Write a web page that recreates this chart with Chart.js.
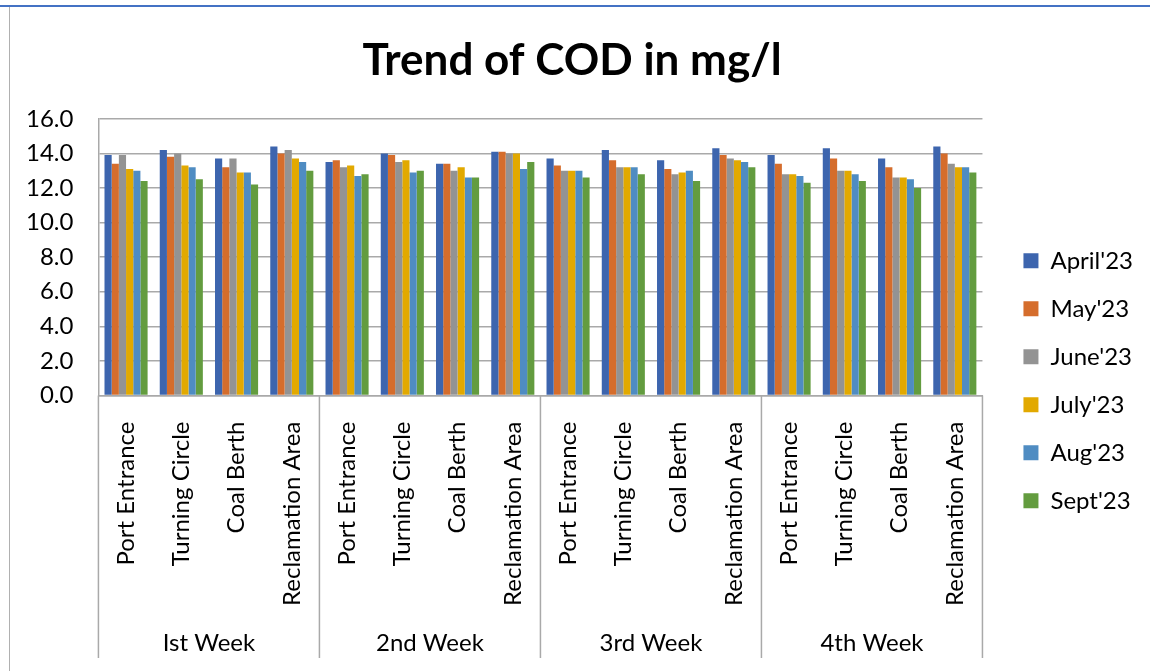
<!DOCTYPE html>
<html>
<head>
<meta charset="utf-8">
<script src="https://cdn.jsdelivr.net/npm/chart.js@4"></script>
<style>
  body { margin: 0; background: #fff; }
  #wrap { position: relative; width: 1150px; height: 671px; }
  #topline { position: absolute; left: 0; top: 5px; width: 1150px; height: 2px; background: #4472c4; }
  #leftline { position: absolute; left: 9px; top: 7px; width: 1px; height: 664px; background: #b0b0b0; }
</style>
</head>
<body>
<div id="wrap">
  <canvas id="myChart" width="1150" height="671"></canvas>
  <div id="topline"></div>
  <div id="leftline"></div>
</div>
<script>
const sites = ['Port Entrance', 'Turning Circle', 'Coal Berth', 'Reclamation Area'];
const weeks = ['Ist Week', '2nd Week', '3rd Week', '4th Week'];
const months = ["April'23", "May'23", "June'23", "July'23", "Aug'23", "Sept'23"];
const yTicks = [0, 2, 4, 6, 8, 10, 12, 14, 16];

// COD values, week by week (PE, TC, CB, RA)
const april = [13.9, 14.2, 13.7, 14.4, 13.5, 14.0, 13.4, 14.1, 13.7, 14.2, 13.6, 14.3, 13.9, 14.3, 13.7, 14.4];
const may   = [13.4, 13.8, 13.2, 14.0, 13.6, 13.9, 13.4, 14.1, 13.3, 13.6, 13.1, 13.9, 13.4, 13.7, 13.2, 14.0];
const june  = [13.9, 14.0, 13.7, 14.2, 13.2, 13.5, 13.0, 14.0, 13.0, 13.2, 12.8, 13.7, 12.8, 13.0, 12.6, 13.4];
const july  = [13.1, 13.3, 12.9, 13.7, 13.3, 13.6, 13.2, 14.0, 13.0, 13.2, 12.9, 13.6, 12.8, 13.0, 12.6, 13.2];
const aug   = [13.0, 13.2, 12.9, 13.5, 12.7, 12.9, 12.6, 13.1, 13.0, 13.2, 13.0, 13.5, 12.7, 12.8, 12.5, 13.2];
const sept  = [12.4, 12.5, 12.2, 13.0, 12.8, 13.0, 12.6, 13.5, 12.6, 12.8, 12.4, 13.2, 12.3, 12.4, 12.0, 12.9];

const series = [april, may, june, july, aug, sept];
const colors = ['#3d65ae', '#d56d2c', '#939393', '#e2a900', '#4f8cc2', '#639c3f'];
const labels = weeks.flatMap(() => sites);

const FONT = 'Lato, "Open Sans", sans-serif';

// draws the week dividers and the week names under the site labels
const weekGroups = {
  id: 'weekGroups',
  afterDraw(chart) {
    const x = chart.scales.x;
    const ctx = chart.ctx;
    const top = chart.chartArea.bottom;
    const bottom = 658;
    const n = sites.length;
    let edges = [];
    for (let g = 0; g <= weeks.length; g++) {
      if (g === 0) edges.push(x.left);
      else if (g === weeks.length) edges.push(x.right);
      else edges.push((x.getPixelForValue(g * n - 1) + x.getPixelForValue(g * n)) / 2);
    }
    ctx.save();
    ctx.strokeStyle = '#a9a9a9';
    ctx.lineWidth = 1.5;
    edges.forEach(e => {
      ctx.beginPath();
      ctx.moveTo(e, top);
      ctx.lineTo(e, bottom);
      ctx.stroke();
    });
    ctx.fillStyle = '#000';
    ctx.font = '24px ' + FONT;
    ctx.textAlign = 'center';
    ctx.textBaseline = 'middle';
    weeks.forEach((w, i) => ctx.fillText(w, (edges[i] + edges[i + 1]) / 2, 643));
    ctx.restore();
  }
};

new Chart(document.getElementById('myChart').getContext('2d'), {
  type: 'bar',
  data: {
    labels: labels,
    datasets: months.map((m, i) => ({
      label: m,
      data: series[i],
      backgroundColor: colors[i],
      borderWidth: 0,
      barPercentage: 1,
      categoryPercentage: 0.78
    }))
  },
  options: {
    responsive: false,
    animation: false,
    layout: { padding: { left: 1, right: 7, bottom: 47, top: 0 } },
    plugins: {
      tooltip: { enabled: false },
      title: {
        display: true,
        text: 'Trend of COD in mg/l',
        color: '#000',
        font: { family: FONT, size: 44, weight: 'bold' },
        padding: { top: 34, bottom: 32 }
      },
      legend: {
        position: 'right',
        align: 'start',
        title: { display: true, text: ' ', padding: { top: 220, bottom: 0 }, font: { size: 4 } },
        labels: {
          color: '#000',
          font: { family: FONT, size: 24 },
          boxWidth: 15,
          boxHeight: 15,
          padding: 24
        }
      }
    },
    scales: {
      x: {
        grid: { display: false },
        border: { display: true, color: '#a9a9a9', width: 1.5 },
        ticks: {
          color: '#000',
          font: { family: FONT, size: 24 },
          maxRotation: 90,
          minRotation: 90,
          padding: 18,
          autoSkip: false
        }
      },
      y: {
        min: 0,
        max: 16,
        afterBuildTicks: axis => { axis.ticks = yTicks.map(v => ({ value: v })); },
        grid: { color: '#a9a9a9', lineWidth: 1.5, drawTicks: false },
        border: { display: true, color: '#a9a9a9', width: 1.5 },
        ticks: {
          color: '#000',
          font: { family: FONT, size: 24 },
          padding: 25,
          callback: v => v.toFixed(1)
        }
      },
      // empty spacer between the plot and the legend
      gap: {
        position: 'right',
        min: 0,
        max: 1,
        grid: { display: false },
        border: { display: false },
        ticks: { display: false },
        afterFit: axis => { axis.width = 17; }
      }
    }
  },
  plugins: [weekGroups]
});
</script>
</body>
</html>
